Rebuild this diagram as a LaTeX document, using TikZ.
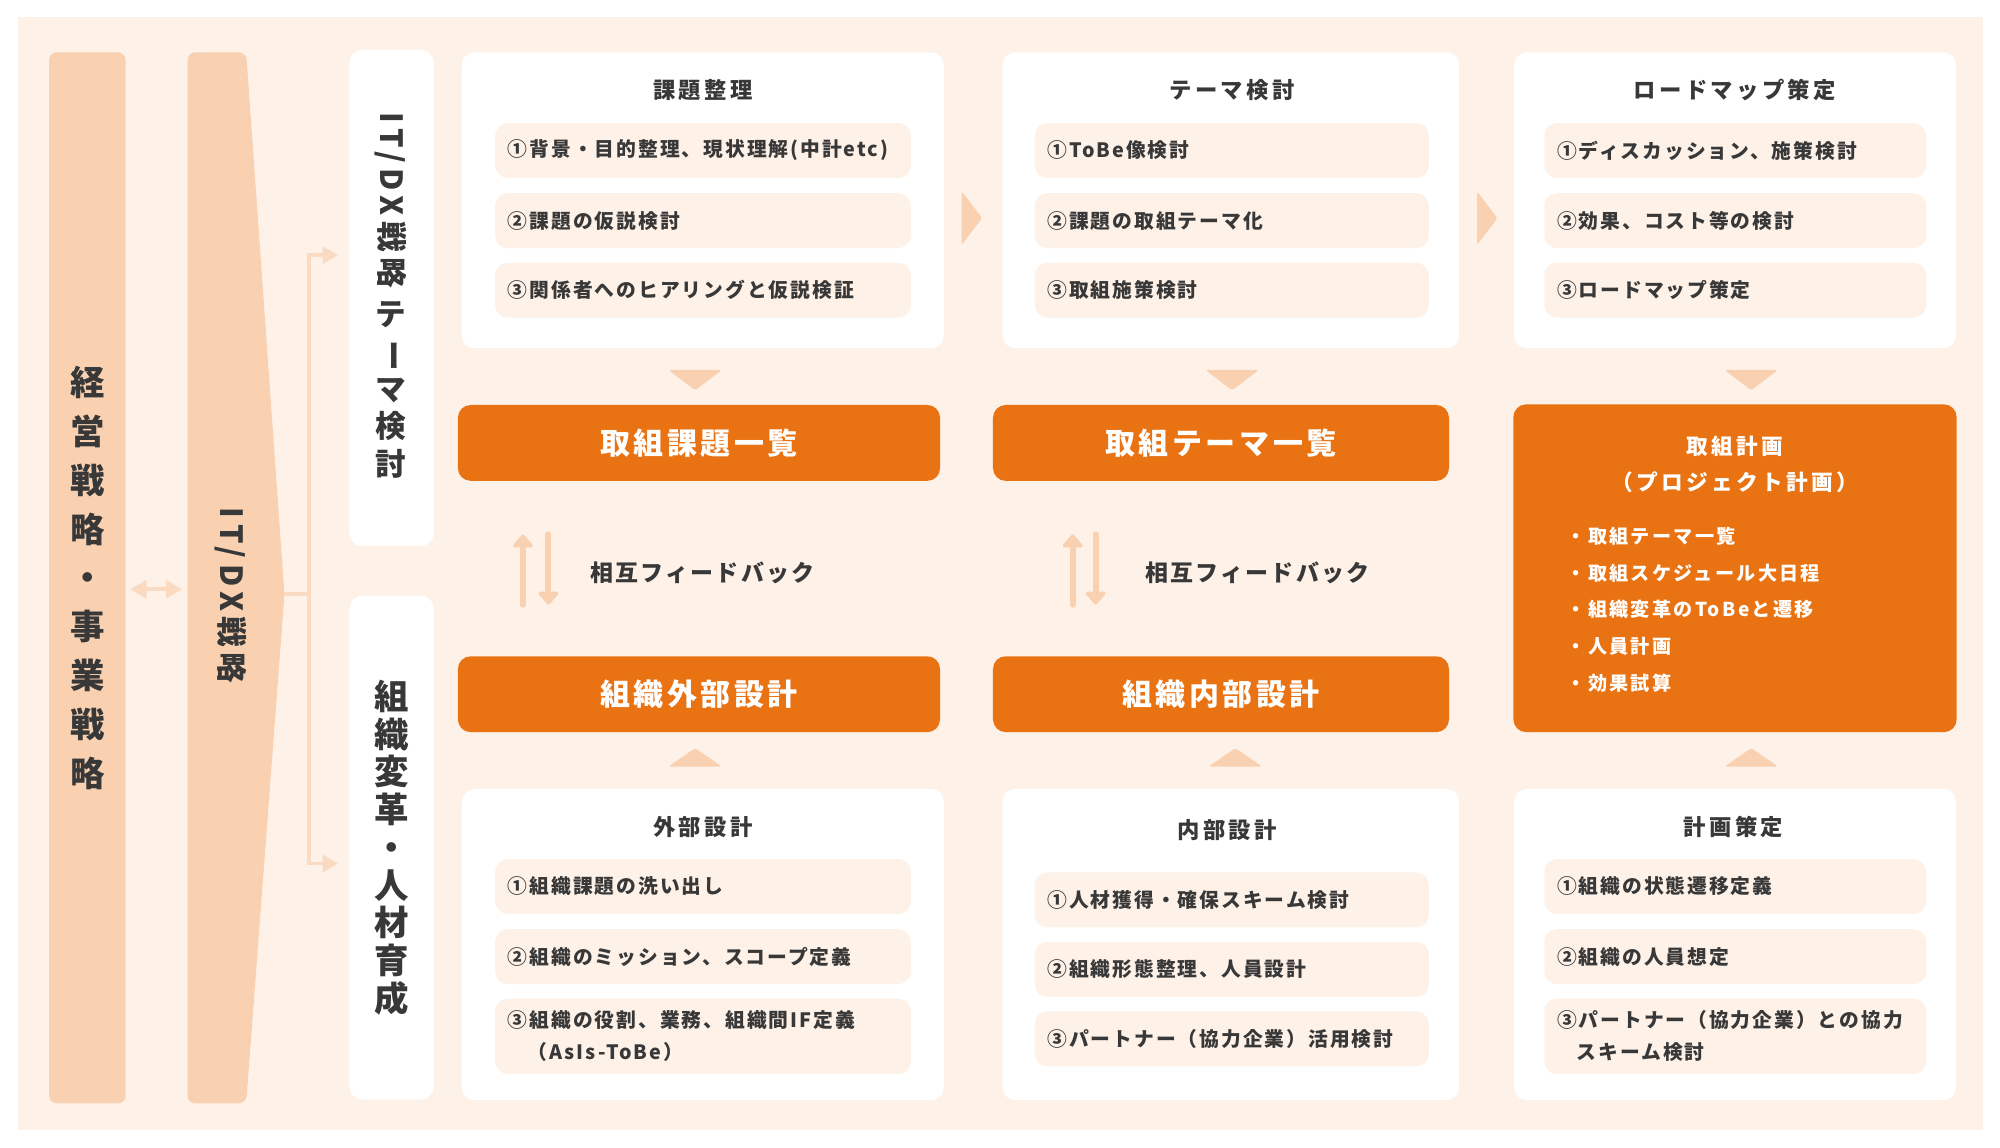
\documentclass[tikz,border=0pt]{standalone}
\usepackage{fontspec}
\usepackage{graphicx}
\setmainfont{Noto Sans CJK JP}
\usetikzlibrary{arrows.meta}

\definecolor{pagepeach}{HTML}{FDF1E8}
\definecolor{barpeach}{HTML}{F9D1B1}
\definecolor{linepeach}{HTML}{FADBC2}
\definecolor{planorange}{HTML}{E97213}
\definecolor{darktext}{HTML}{383838}

\newcommand{\jpset}[3]{\bfseries\fontsize{#1}{#2}\selectfont\addfontfeatures{LetterSpace=#3}}

\tikzset{
  card/.style={fill=white, rounded corners=10pt, inner sep=0pt},
  stepitem/.style={fill=pagepeach, rounded corners=10pt, anchor=west, inner xsep=10pt, inner ysep=0pt,
    minimum height=43pt, text width=#1, align=left, text=darktext, font=\jpset{15.5}{25}{10}},
  cardtitle/.style={text=darktext, inner sep=0pt, font=\jpset{17.5}{22}{15}},
  resultbox/.style={fill=planorange, rounded corners=10pt, inner sep=0pt, text=white, font=\jpset{23.5}{28}{12}},
  chevron/.style={fill=barpeach, rounded corners=2pt},
  feedarrow/.style={draw=barpeach, line width=4.7pt, line cap=round, -{Triangle[length=11pt, width=18pt, round]}},
  feedtext/.style={anchor=west, inner sep=0pt, text=darktext, font=\jpset{18}{20}{10}},
  branch/.style={draw=linepeach, line width=3pt},
  brancharrow/.style={branch, -{Triangle[length=12pt, width=13pt]}},
}

\begin{document}
\begin{tikzpicture}[x=1pt,y=-1pt]
                \useasboundingbox (0,0) rectangle (1568,900);
                {\bfseries

                % Drawing background
                \fill [pagepeach] (14,13) rectangle (1555,886);%

                % Drawing bar 経営戦略・事業戦略
                \draw (68.5,453) node (bizbar) [fill=barpeach, rounded corners=6pt, minimum width=60pt, minimum height=824pt, inner sep=0pt, align=center, text=darktext, font=\jpset{27}{38.3}{0}] {経\\営\\戦\\略\\・\\事\\業\\戦\\略};%

                % Drawing bar IT/DX戦略
                \fill [barpeach, rounded corners=6pt] (147,865) -- (147,41) -- (193,41) -- (223,466) -- (193,865) -- cycle;%
                \coordinate (itdxtip) at (223,466);%
                \coordinate (itdxleft) at (147,462);%
                \draw (181,467) node (itdxtext) [rotate=-90, text=darktext, font=\jpset{24}{28}{18}] {IT/DX戦略};%

                % Drawing arrow between the bars
                \coordinate (bizright) at (102,462);%
                \draw [branch, {Triangle[length=13pt, width=14pt]}-{Triangle[length=13pt, width=14pt]}] (bizright) -- ([xshift=-4pt]itdxleft);%

                % Drawing label IT/DX戦略 テーマ検討
                \draw (307,233.5) node (themelabel) [card, minimum width=66pt, minimum height=389pt] {};%
                \draw (306,157) node (themetext) [rotate=-90, text=darktext, font=\jpset{24}{28}{18}] {IT/DX戦略};%
                \draw (306,305.6) node (themestack) [align=center, text=darktext, font=\jpset{24}{29.5}{0}] {テ\\\rotatebox[origin=c]{-90}{ー}\\マ\\検\\討};%

                % Drawing label 組織変革・人材育成
                \draw (307,664.5) node (orglabel) [card, minimum width=66pt, minimum height=395pt, align=center, text=darktext, font=\jpset{27}{29.6}{0}] {組\\織\\変\\革\\・\\人\\材\\育\\成};%

                % Drawing branch from IT/DX戦略
                \coordinate (branchsplit) at (242,466);%
                \coordinate (themein) at (265,200);%
                \coordinate (orgin) at (265,677);%
                \draw [branch] (itdxtip) -- (branchsplit);%
                \draw [brancharrow] (branchsplit) |- (themein);%
                \draw [brancharrow] (branchsplit) |- (orgin);%

                % Drawing card 課題整理
                \draw (551,157) node (issuecard) [card, minimum width=378pt, minimum height=232pt] {};%
                \draw (551,70.5) node (issuetitle) [cardtitle] {課題整理};%
                \draw (388,118) node (issueone) [stepitem=306pt] {①背景・目的整理、現状理解(中計etc)};%
                \draw (388,173) node (issuetwo) [stepitem=306pt] {②課題の仮説検討};%
                \draw (388,227.5) node (issuethree) [stepitem=306pt] {③関係者へのヒアリングと仮説検証};%

                % Drawing card テーマ検討
                \draw (965,157) node (themecard) [card, minimum width=358pt, minimum height=232pt] {};%
                \draw (966,70.5) node (themetitle) [cardtitle] {テーマ検討};%
                \draw (811,118) node (themeone) [stepitem=289pt] {①ToBe像検討};%
                \draw (811,173) node (themetwo) [stepitem=289pt] {②課題の取組テーマ化};%
                \draw (811,227.5) node (themethree) [stepitem=289pt] {③取組施策検討};%

                % Drawing card ロードマップ策定
                \draw (1360.25,157) node (roadcard) [card, minimum width=346.5pt, minimum height=232pt] {};%
                \draw (1360,70.5) node (roadtitle) [cardtitle] {ロードマップ策定};%
                \draw (1210.5,118) node (roadone) [stepitem=279.5pt] {①ディスカッション、施策検討};%
                \draw (1210.5,173) node (roadtwo) [stepitem=279.5pt] {②効果、コスト等の検討};%
                \draw (1210.5,227.5) node (roadthree) [stepitem=279.5pt] {③ロードマップ策定};%

                % Drawing chevrons between the cards
                \fill [chevron] (754,150) -- (770,171) -- (754,192) -- cycle;%
                \fill [chevron] (1158,150) -- (1174,171) -- (1158,192) -- cycle;%

                % Drawing chevrons under the cards
                \fill [chevron] (524,290) -- (566,290) -- (545,306) -- cycle;%
                \fill [chevron] (945,290) -- (987,290) -- (966,306) -- cycle;%
                \fill [chevron] (1352,290) -- (1394,290) -- (1373,306) -- cycle;%

                % Drawing results 取組課題一覧, 取組テーマ一覧
                \draw (548,347.25) node (issuelist) [resultbox, minimum width=378pt, minimum height=59.5pt] {取組課題一覧};%
                \draw (957.25,347.25) node (themelist) [resultbox, minimum width=357.5pt, minimum height=59.5pt] {取組テーマ一覧};%

                % Drawing result 取組計画
                \draw (1360.25,445.5) node (planbox) [resultbox, minimum width=347.5pt, minimum height=257pt] {};%
                \draw (1360,363.8) node (plantitle) [align=center, inner sep=0pt, text=white, font=\jpset{17}{28.4}{15}] {取組計画\\（プロジェクト計画）};%
                \draw (1228,478) node (planlist) [anchor=west, inner sep=0pt, align=left, text=white, font=\jpset{15}{28.7}{12}] {・取組テーマ一覧\\・取組スケジュール大日程\\・組織変革のToBeと遷移\\・人員計画\\・効果試算};%

                % Drawing feedback between the rows
                \coordinate (issuefblow) at (410,474);%
                \coordinate (issuefbhigh) at (410,419);%
                \coordinate (issuefbtop) at (430,419);%
                \coordinate (issuefbend) at (430,474);%
                \draw [feedarrow] (issuefblow) -- (issuefbhigh);%
                \draw [feedarrow] (issuefbtop) -- (issuefbend);%
                \draw (462.5,449.4) node (issuefeedback) [feedtext] {相互フィードバック};%

                \coordinate (themefblow) at (841,474);%
                \coordinate (themefbhigh) at (841,419);%
                \coordinate (themefbtop) at (859,419);%
                \coordinate (themefbend) at (859,474);%
                \draw [feedarrow] (themefblow) -- (themefbhigh);%
                \draw [feedarrow] (themefbtop) -- (themefbend);%
                \draw (897.5,449.4) node (themefeedback) [feedtext] {相互フィードバック};%

                % Drawing results 組織外部設計, 組織内部設計
                \draw (548,544.25) node (outerdesign) [resultbox, minimum width=378pt, minimum height=59.5pt] {組織外部設計};%
                \draw (957.25,544.25) node (innerdesign) [resultbox, minimum width=357.5pt, minimum height=59.5pt] {組織内部設計};%

                % Drawing chevrons over the cards
                \fill [chevron] (524,601) -- (566,601) -- (545,586.5) -- cycle;%
                \fill [chevron] (947.5,601) -- (989.5,601) -- (968.5,586.5) -- cycle;%
                \fill [chevron] (1352,601) -- (1394,601) -- (1373,586.5) -- cycle;%

                % Drawing card 外部設計
                \draw (551,740.5) node (outercard) [card, minimum width=378pt, minimum height=244pt] {};%
                \draw (551,648) node (outertitle) [cardtitle] {外部設計};%
                \draw (388,695) node (outerone) [stepitem=306pt] {①組織課題の洗い出し};%
                \draw (388,750) node (outertwo) [stepitem=306pt] {②組織のミッション、スコープ定義};%
                \draw (388,812.5) node (outerthree) [stepitem=306pt, minimum height=59pt] {③組織の役割、業務、組織間IF定義\\\hspace*{1em}（AsIs-ToBe）};%

                % Drawing card 内部設計
                \draw (965,740.5) node (innercard) [card, minimum width=358pt, minimum height=244pt] {};%
                \draw (962,651) node (innertitle) [cardtitle] {内部設計};%
                \draw (811,705.5) node (innerone) [stepitem=289pt] {①人材獲得・確保スキーム検討};%
                \draw (811,760) node (innertwo) [stepitem=289pt] {②組織形態整理、人員設計};%
                \draw (811,814.5) node (innerthree) [stepitem=289pt] {③パートナー（協力企業）活用検討};%

                % Drawing card 計画策定
                \draw (1360.25,740.5) node (plancard) [card, minimum width=346.5pt, minimum height=244pt] {};%
                \draw (1359,648) node (plancardtitle) [cardtitle] {計画策定};%
                \draw (1210.5,695) node (planone) [stepitem=279.5pt] {①組織の状態遷移定義};%
                \draw (1210.5,750) node (plantwo) [stepitem=279.5pt] {②組織の人員想定};%
                \draw (1210.5,812.5) node (planthree) [stepitem=279.5pt, minimum height=59pt] {③パートナー（協力企業）との協力\\\hspace*{1em}スキーム検討};%
                }
\end{tikzpicture}
\end{document}
